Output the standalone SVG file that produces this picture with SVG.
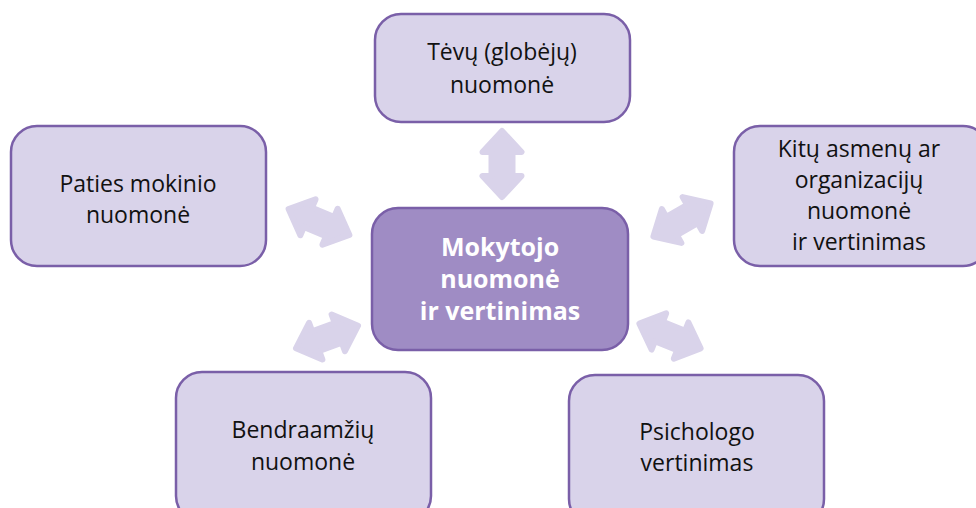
<svg xmlns="http://www.w3.org/2000/svg" width="976" height="508" viewBox="0 0 976 508">
<style>
.box{fill:#d9d3ea;stroke:#7a5fa8;stroke-width:2.5}
.main{fill:#9f8cc4;stroke:#7a5fa8;stroke-width:2.5}
.t{font-family:"Open Sans","Liberation Sans",sans-serif;font-size:23px;fill:#111;text-anchor:middle}
.tb{font-family:"Open Sans","Liberation Sans",sans-serif;font-size:25px;font-weight:bold;fill:#fff;text-anchor:middle}
.arr{fill:#d9d3ea;stroke:#d9d3ea;stroke-width:6;stroke-linejoin:round}
</style>
<defs>
<path id="da" d="M-33,0 L-12,-19.5 L-12,-10.5 L12,-10.5 L12,-19.5 L33,0 L12,19.5 L12,10.5 L-12,10.5 L-12,19.5 Z"/>
</defs>
<g id="connectors">
<use href="#da" class="arr" transform="translate(502,164) rotate(90)"/>
<use href="#da" class="arr" transform="translate(319,222) rotate(23)"/>
<use href="#da" class="arr" transform="translate(682,220) rotate(-30)"/>
<use href="#da" class="arr" transform="translate(327,337) rotate(-20)"/>
<use href="#da" class="arr" transform="translate(670,336) rotate(22)"/>
</g>
<g id="top">
<rect class="box" x="375" y="14" width="255" height="108" rx="26"/>
<text class="t" x="502" y="60">Tėvų (globėjų)</text>
<text class="t" x="502" y="93">nuomonė</text>
</g>
<g id="left">
<rect class="box" x="11" y="126" width="255" height="140" rx="26"/>
<text class="t" x="138" y="192">Paties mokinio</text>
<text class="t" x="138" y="223">nuomonė</text>
</g>
<g id="right">
<rect class="box" x="734" y="126" width="255" height="140" rx="26"/>
<text class="t" x="859" y="157">Kitų asmenų ar</text>
<text class="t" x="859" y="188">organizacijų</text>
<text class="t" x="859" y="219">nuomonė</text>
<text class="t" x="859" y="250">ir vertinimas</text>
</g>
<g id="center">
<rect class="main" x="372" y="208" width="256" height="142" rx="26"/>
<text class="tb" x="500" y="256">Mokytojo</text>
<text class="tb" x="500" y="288">nuomonė</text>
<text class="tb" x="500" y="320">ir vertinimas</text>
</g>
<g id="bottomleft">
<rect class="box" x="176" y="372" width="255" height="150" rx="26"/>
<text class="t" x="303" y="438">Bendraamžių</text>
<text class="t" x="303" y="470">nuomonė</text>
</g>
<g id="bottomright">
<rect class="box" x="569" y="375" width="255" height="150" rx="26"/>
<text class="t" x="697" y="440">Psichologo</text>
<text class="t" x="697" y="471">vertinimas</text>
</g>
</svg>
